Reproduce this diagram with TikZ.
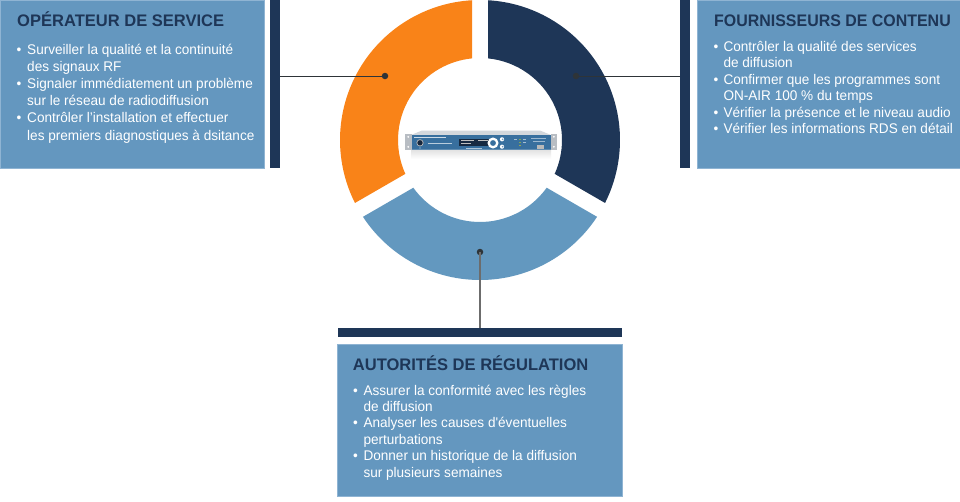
\documentclass[tikz,border=0pt]{standalone}
\usepackage{fontspec}
\newfontfamily\bfont[FakeStretch=0.97]{Liberation Sans}
\newfontfamily\tfontA[FakeStretch=0.99]{Liberation Sans}
\newfontfamily\tfontB[FakeStretch=0.955]{Liberation Sans}
\definecolor{navy}{HTML}{1E3657}
\definecolor{orng}{HTML}{F98318}
\definecolor{lblue}{HTML}{6398BF}
\definecolor{boxblue}{HTML}{6497BF}
\definecolor{boxedge}{HTML}{8FB4D3}
\definecolor{dotc}{HTML}{2E3438}
\definecolor{panel}{HTML}{386F9E}
\definecolor{devtop}{HTML}{D3D7DC}
\definecolor{eargray}{HTML}{B8BDC3}
\tikzset{
  boxnode/.style={draw=boxedge, fill=boxblue, line width=0.8pt, inner sep=0pt, anchor=north west},
  barnode/.style={fill=navy, inner sep=0pt, anchor=north west},
  dotnode/.style={circle, fill=dotc, minimum size=6.5pt, inner sep=0pt},
  conn/.style={draw=dotc, line width=1pt},
  conngray/.style={draw=gray!85!black, line width=1.4pt},
  titletext/.style={anchor=base west, inner sep=0pt, text=navy, font=\tfontA\bfseries\fontsize{16.7}{18}\selectfont},
  titletextB/.style={titletext, font=\tfontB\bfseries\fontsize{16.7}{18}\selectfont},
  bodytext/.style={anchor=base west, inner sep=0pt, text=white, font=\bfont\fontsize{14}{16}\selectfont},
}
\begin{document}
\begin{tikzpicture}[x=1pt,y=-1pt]
\useasboundingbox (0,0) rectangle (960,501);
\fill[white] (0,0) rectangle (960,501);

% ---- boxes and bars
\node[boxnode, minimum width=263.5pt, minimum height=168pt] (boxL) at (0,0) {};
\node[barnode, minimum width=10pt, minimum height=168pt] (barL) at (270,0) {};
\node[boxnode, minimum width=263.3pt, minimum height=168pt] (boxR) at (696.7,0) {};
\node[barnode, minimum width=10pt, minimum height=168pt] (barR) at (680,0) {};
\node[barnode, minimum width=284.7pt, minimum height=9.5pt] (barB) at (337.3,327.7) {};
\node[boxnode, minimum width=284.7pt, minimum height=151.5pt] (boxB) at (337.3,344.3) {};

% ---- donut
\begin{scope}[shift={(480,140)}]
\fill[orng] (93.276:140pt) arc[start angle=93.276, end angle=206.724, radius=140pt]
   -- (204.401:82pt) arc[start angle=204.401, end angle=95.599, radius=82pt] -- cycle;
\fill[navy] (-26.724:140pt) arc[start angle=-26.724, end angle=86.724, radius=140pt]
   -- (84.401:82pt) arc[start angle=84.401, end angle=-24.401, radius=82pt] -- cycle;
\fill[lblue] (213.276:140pt) arc[start angle=213.276, end angle=326.724, radius=140pt]
   -- (324.401:82pt) arc[start angle=324.401, end angle=215.599, radius=82pt] -- cycle;
\end{scope}

% ---- device
\shade[top color=gray!22, bottom color=white] (411,150) rectangle (551,159);
\fill[devtop] (422,130.5) -- (540,130.5) -- (551,135) -- (411,135) -- cycle;
\fill[eargray] (405,134) rectangle (411.5,149.5);
\fill[eargray] (550.5,134) rectangle (557,149.5);
\fill[white] (408.2,136.8) circle (1);
\fill[white] (408.2,146.8) circle (1);
\fill[white] (553.8,136.8) circle (1);
\fill[white] (553.8,146.8) circle (1);
\fill[panel] (411.5,135) rectangle (550.5,150);
\fill[panel!80!white] (411.5,149) rectangle (550.5,150.3);
\draw[white!75!panel, line width=0.6pt] (414,137.6) -- (446,137.6);
\fill[navy!70!black] (420,142.8) circle (3.2);
\draw[gray!55, line width=0.7pt] (420,142.8) circle (3.2);
\fill[white!70!panel] (420,148) circle (0.6);
\draw[white!65!panel, line width=0.5pt] (428,143.5) -- (452,143.5);
\fill[navy!75!black] (459,138.5) rectangle (490,145.5);
\draw[gray!50, line width=0.35pt] (461,140.6) -- (474,140.6) (478,140.6) -- (488,140.6) (461,143.2) -- (471,143.2);
\draw[white!60!panel, line width=0.3pt] (466,147.8) -- (482,147.8);
\draw[white, line width=2.3pt] (493,143) circle (4.3);
\fill[white] (502,139.3) circle (2.1);
\fill[white] (502,146.7) circle (2.1);
\fill[panel!70!white] (502.6,139.3) circle (0.9);
\fill[panel!70!white] (502.6,146.7) circle (0.9);
\fill[yellow!80!green] (520,139.5) circle (0.6);
\fill[yellow!80!green] (520,142.5) circle (0.6);
\fill[yellow!80!orange] (520,145.5) circle (0.6);
\draw[white!55!panel, line width=0.3pt] (514,139.5) -- (517,139.5) (523,139.5) -- (526,139.5) (523,142.5) -- (526,142.5);
\draw[white!50!panel, line width=0.35pt] (531,138.5) -- (546,138.5) (533,141) -- (545,141);
\fill[gray!55] (537,144.5) rectangle (544,148.5);

% ---- dots and connectors
\node[dotnode] (dotL) at (385,76) {};
\node[dotnode] (dotR) at (576,76) {};
\node[dotnode] (dotB) at (480,252) {};
\draw[conn] (dotL.center) -- (barL.east |- dotL.center);
\draw[conn] (dotR.center) -- (barR.west |- dotR.center);
\draw[conngray] (dotB.center) -- (dotB.center |- barB.north);

% ---- left texts
\node[titletext] (tL) at (17,26) {OPÉRATEUR DE SERVICE};
\node[bodytext] (bL1) at (16.5,54) {•};
\node[bodytext] (L1) at (27,54) {Surveiller la qualité et la continuité};
\node[bodytext] (L2) at (27,71.2) {des signaux RF};
\node[bodytext] (bL2) at (16.5,88.4) {•};
\node[bodytext] (L3) at (27,88.4) {Signaler immédiatement un problème};
\node[bodytext] (L4) at (27,105.6) {sur le réseau de radiodiffusion};
\node[bodytext] (bL3) at (16.5,122.8) {•};
\node[bodytext] (L5) at (27,122.8) {Contrôler l’installation et effectuer};
\node[bodytext] (L6) at (27,140) {les premiers diagnostiques à dsitance};

% ---- right texts
\node[titletextB] (tR) at (714,26) {FOURNISSEURS DE CONTENU};
\node[bodytext] (bR1) at (713.5,51) {•};
\node[bodytext] (R1) at (723.3,51) {Contrôler la qualité des services};
\node[bodytext] (R2) at (723.3,67.5) {de diffusion};
\node[bodytext] (bR2) at (713.5,84) {•};
\node[bodytext] (R3) at (723.3,84) {Confirmer que les programmes sont};
\node[bodytext] (R4) at (723.3,100.5) {ON-AIR 100 \% du temps};
\node[bodytext] (bR3) at (713.5,117) {•};
\node[bodytext] (R5) at (723.3,117) {Vérifier la présence et le niveau audio};
\node[bodytext] (bR4) at (713.5,133.6) {•};
\node[bodytext] (R6) at (723.3,133.6) {Vérifier les informations RDS en détail};

% ---- bottom texts
\node[titletext] (tB) at (352.7,370) {AUTORITÉS DE RÉGULATION};
\node[bodytext] (bB1) at (353,395) {•};
\node[bodytext] (B1) at (363.3,395) {Assurer la conformité avec les règles};
\node[bodytext] (B2) at (363.3,411.4) {de diffusion};
\node[bodytext] (bB2) at (353,427.8) {•};
\node[bodytext] (B3) at (363.3,427.8) {Analyser les causes d'éventuelles};
\node[bodytext] (B4) at (363.3,444.2) {perturbations};
\node[bodytext] (bB3) at (353,460.6) {•};
\node[bodytext] (B5) at (363.3,460.6) {Donner un historique de la diffusion};
\node[bodytext] (B6) at (363.3,477) {sur plusieurs semaines};
\end{tikzpicture}
\end{document}
